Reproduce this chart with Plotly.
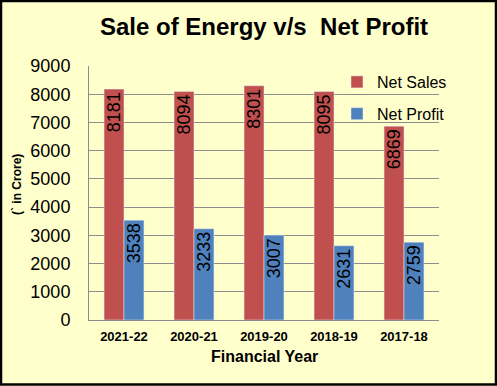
import plotly.graph_objects as go

years = ["2021-22", "2020-21", "2019-20", "2018-19", "2017-18"]
net_sales = [8181, 8094, 8301, 8095, 6869]
net_profit = [3538, 3233, 3007, 2631, 2759]
y_ticks = [0, 1000, 2000, 3000, 4000, 5000, 6000, 7000, 8000, 9000]

W, H = 497, 386
L, R, T, B = 89, 58, 66, 66
PW, PH = W - L - R, H - T - B

BG = "#FFFFCC"
GRID = "#8C8C8C"
FONT = "Liberation Sans, Arial, sans-serif"

fig = go.Figure()
fig.add_trace(go.Bar(
    x=years, y=net_sales, name="Net Sales", marker_color="#C0504D",
    text=[str(v) for v in net_sales], textposition="inside", textangle=-90,
    insidetextanchor="end", constraintext="none",
    textfont=dict(family=FONT, size=18, color="black"), legendgroup="a",
))
fig.add_trace(go.Bar(
    x=years, y=net_profit, name="Net Profit", marker_color="#4F81BD",
    text=[str(v) for v in net_profit], textposition="inside", textangle=-90,
    insidetextanchor="end", constraintext="none",
    textfont=dict(family=FONT, size=18, color="black"), legendgroup="b",
))

fig.update_layout(
    width=W, height=H,
    margin=dict(l=L, r=R, t=T, b=B),
    paper_bgcolor=BG, plot_bgcolor=BG,
    barmode="group", bargap=0.43, bargroupgap=0,
    font=dict(family=FONT, color="black"),
    title=dict(text="<b>Sale of Energy v/s\u00a0 Net Profit</b>", x=0.5, xanchor="center",
               xref="paper", y=1 - 27 / H, yref="container", yanchor="middle",
               font=dict(size=24, family=FONT, color="black")),
    showlegend=True,
    legend=dict(x=(337 - L) / PW, xanchor="left", y=(T + PH - 65) / PH, yanchor="top",
                bgcolor="rgba(0,0,0,0)", font=dict(size=16, family=FONT),
                tracegroupgap=8, itemwidth=30),
    xaxis=dict(showgrid=False, showline=True, linecolor=GRID, linewidth=1,
               ticks="", tickfont=dict(size=13, family=FONT), tickprefix="<b>", ticksuffix="</b>",
               ticklabelstandoff=4),
    yaxis=dict(range=[0, 9000], tickvals=y_ticks, showgrid=True, gridcolor=GRID, gridwidth=1,
               showline=True, linecolor=GRID, linewidth=1, ticks="", zeroline=False,
               tickfont=dict(size=18, family=FONT), ticklabelstandoff=14),
)

fig.add_annotation(text="<b>(` in Crore)</b>", textangle=-90, xref="paper", yref="paper",
                   x=(17 - L) / PW, y=(T + PH - 185) / PH, showarrow=False,
                   xanchor="center", yanchor="middle", font=dict(size=12, family=FONT))
fig.add_annotation(text="<b>Financial Year</b>", xref="paper", yref="paper",
                   x=0.5, y=(T + PH - 356) / PH, showarrow=False,
                   xanchor="center", yanchor="middle", font=dict(size=16, family=FONT))

fig.add_shape(type="rect", xref="paper", yref="paper",
              x0=-(L - 1) / PW, x1=1 + (R - 1) / PW, y0=-(B - 1.5) / PH, y1=1 + (T - 1) / PH,
              line=dict(color="black", width=2.5), layer="above")

fig.write_html("out.html", config={"displayModeBar": False},
               post_script="document.body.style.margin='0';")
